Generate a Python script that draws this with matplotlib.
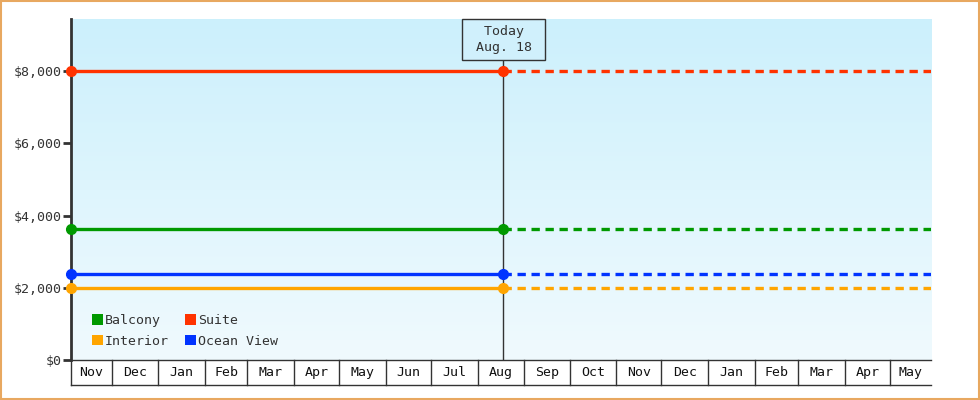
import matplotlib
matplotlib.use("Agg")
import matplotlib.pyplot as plt
import matplotlib.dates as mdates
from matplotlib.patches import Patch, Rectangle
import numpy as np
import datetime as dt

# ---- data ----
series_names = ["Balcony", "Interior", "Suite", "Ocean View"]
series_values = [3630, 2000, 8000, 2380]
series_colors = ["#009900", "#FFA500", "#FF3300", "#0033FF"]
start_date = dt.date(2018, 11, 4)
today_date = dt.date(2019, 8, 18)
end_date = dt.date(2020, 5, 28)
today_lines = ["Today", "Aug. 18"]
y_ticks = [0, 2000, 4000, 6000, 8000]
y_max = 9440

plt.rcParams['font.family'] = ['DejaVu Sans Mono']
fig = plt.figure(figsize=(9.8, 4.0), dpi=100)
fig.patch.set_facecolor("white")
# orange frame
fig.patches.append(Rectangle((0.0008, 0.002), 0.998, 0.995, transform=fig.transFigure,
                             fill=False, edgecolor="#E8A860", linewidth=1.5))

ax = fig.add_axes([71/980, 40/400, 860/980, 341/400])
x0, xt, x1 = mdates.date2num(start_date), mdates.date2num(today_date), mdates.date2num(end_date)
ax.set_xlim(x0, x1)
ax.set_ylim(0, y_max)

# gradient background
grad = np.linspace(0, 1, 256).reshape(-1, 1)
top = np.array([204, 240, 252]) / 255
bot = np.array([240, 250, 254]) / 255
img = bot + (top - bot) * grad
ax.imshow(img[:, None, :].repeat(2, axis=1), extent=[0, 1, 0, 1], transform=ax.transAxes,
          aspect="auto", origin="lower", zorder=0)

for name, v, c in zip(series_names, series_values, series_colors):
    ax.plot([x0, xt], [v, v], color=c, lw=2.4, zorder=3, solid_capstyle="butt")
    ax.plot([xt, x1], [v, v], color=c, lw=2.4, ls=(0, (2.5, 1.7)), zorder=3)
    ax.plot([x0, xt], [v, v], ls="none", marker="o", ms=7, color=c, zorder=4, clip_on=False)

# today line and box
ax.plot([xt, xt], [0, 0.88], color="#333333", lw=1, transform=ax.get_xaxis_transform(), zorder=2)
label = "\n".join(" " + s.center(7) + " " for s in today_lines)
ax.text(xt + 0.4, 0.940, label, transform=ax.get_xaxis_transform(), ha="center", va="center",
        fontsize=9.5, color="#333333", linespacing=1.35, zorder=5,
        bbox=dict(boxstyle="square,pad=0.42", fc="#D0F0FC", ec="#333333", lw=1))

# y axis
for s in ["top", "right", "bottom"]:
    ax.spines[s].set_visible(False)
ax.spines["left"].set_linewidth(2)
ax.spines["left"].set_color("#333333")
ax.spines["left"].set_zorder(3.5)
ax.set_yticks(y_ticks)
ax.set_yticklabels([f"${t:,}" for t in y_ticks])
ax.tick_params(axis="y", length=6, width=2, color="#333333", labelsize=9.5,
               labelcolor="#333333", pad=1)
ax.set_xticks([])

# month cells
xtr = ax.get_xaxis_transform()
cell_h = -25/341
bounds = [x0]
labels = []
d = start_date
while True:
    nm = dt.date(d.year + (d.month // 12), d.month % 12 + 1, 1)
    labels.append(d.strftime("%b"))
    if nm >= end_date:
        bounds.append(x1)
        break
    bounds.append(mdates.date2num(nm))
    d = nm
ax.plot([x0, x1], [0, 0], color="#333333", lw=1, transform=xtr, clip_on=False)
ax.plot([x0, x1], [cell_h, cell_h], color="#333333", lw=1, transform=xtr, clip_on=False)
for b in bounds[1:-1]:
    ax.plot([b, b], [0, cell_h], color="#333333", lw=1, transform=xtr, clip_on=False)
ax.plot([x0, x0], [0, cell_h], color="#333333", lw=1, transform=xtr, clip_on=False)
for i, lab in enumerate(labels):
    ax.text((bounds[i] + bounds[i+1]) / 2, cell_h / 2, lab, transform=xtr, ha="center",
            va="center", fontsize=9.5, color="#111111")

handles = [Patch(facecolor=c, edgecolor="none", label=n) for n, c in zip(series_names, series_colors)]
leg = ax.legend(handles=handles, ncol=2, loc="lower left", bbox_to_anchor=(0.018, 0.021),
                frameon=False, fontsize=9.5, handlelength=0.85, handleheight=0.85,
                handletextpad=0.15, columnspacing=1.2, labelspacing=0.55, borderaxespad=0)
for t in leg.get_texts():
    t.set_color("#333333")

fig.savefig("out.png", dpi=100)
